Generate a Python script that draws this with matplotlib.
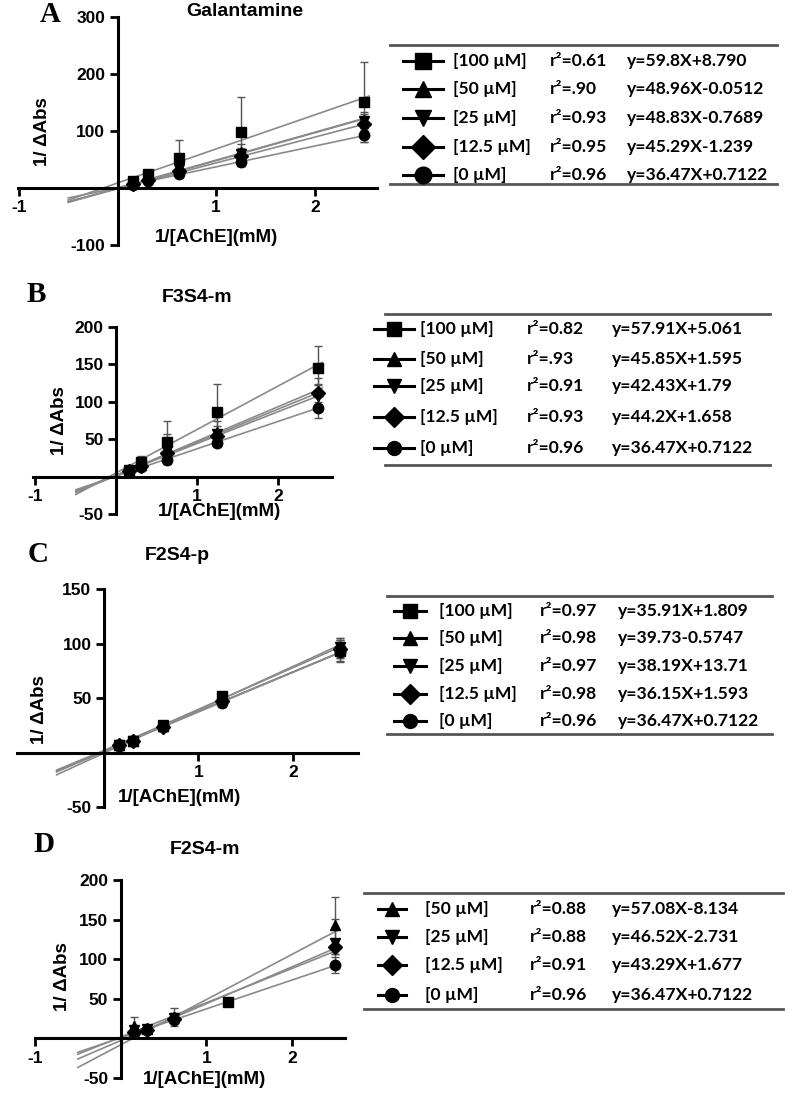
import matplotlib
matplotlib.use("Agg")
import matplotlib.pyplot as plt
import numpy as np

W, H = 789, 1102

# ---------------- data ----------------
x_conc = [0.156, 0.3125, 0.625, 1.25, 2.5]
x_conc_D = [0.156, 0.3125, 0.625, 2.5]

conc_5 = ['[100 µM]', '[50 µM]', '[25 µM]', '[12.5 µM]', '[0 µM]']
conc_4 = ['[50 µM]', '[25 µM]', '[12.5 µM]', '[0 µM]']
markers_5 = ['s', '^', 'v', 'D', 'o']
markers_4 = ['^', 'v', 'D', 'o']

# Panel A - Galantamine
A_r2 = ['r²=0.61', 'r²=.90', 'r²=0.93', 'r²=0.95', 'r²=0.96']
A_eq = ['y=59.8X+8.790', 'y=48.96X-0.0512', 'y=48.83X-0.7689', 'y=45.29X-1.239', 'y=36.47X+0.7122']
A_slope = [59.8, 48.96, 48.83, 45.29, 36.47]
A_icpt = [8.790, -0.0512, -0.7689, -1.239, 0.7122]
A_y = [[12, 25, 52, 99, 151], [9, 18, 36, 63, 120], [8, 15, 33, 60, 118],
       [7, 14, 30, 56, 112], [6, 12, 24, 46, 93]]
A_err = [[3, 5, 33, 60, 70], [2, 4, 8, 14, 14], [2, 3, 6, 10, 12],
         [2, 3, 5, 8, 10], [2, 3, 4, 7, 13]]

# Panel B - F3S4-m
B_r2 = ['r²=0.82', 'r²=.93', 'r²=0.91', 'r²=0.93', 'r²=0.96']
B_eq = ['y=57.91X+5.061', 'y=45.85X+1.595', 'y=42.43X+1.79', 'y=44.2X+1.658', 'y=36.47X+0.7122']
B_slope = [57.91, 45.85, 42.43, 44.2, 36.47]
B_icpt = [5.061, 1.595, 1.79, 1.658, 0.7122]
B_y = [[9, 20, 46, 86, 145], [8, 16, 37, 60, 114], [7, 15, 34, 57, 108],
       [7, 14, 32, 54, 112], [7, 13, 22, 45, 92]]
B_err = [[3, 8, 29, 38, 29], [2, 5, 20, 15, 18], [2, 4, 12, 10, 15],
         [2, 4, 10, 8, 12], [2, 3, 4, 5, 14]]

# Panel C - F2S4-p
C_r2 = ['r²=0.97', 'r²=0.98', 'r²=0.97', 'r²=0.98', 'r²=0.96']
C_eq = ['y=35.91X+1.809', 'y=39.73-0.5747', 'y=38.19X+13.71', 'y=36.15X+1.593', 'y=36.47X+0.7122']
C_slope = [35.91, 39.73, 38.19, 36.15, 36.47]
C_icpt = [1.809, -0.5747, 1.371, 1.593, 0.7122]
C_y = [[7, 11, 24, 52, 93], [7, 11, 24, 50, 96], [7, 11, 25, 48, 97],
       [7, 11, 23, 47, 95], [6, 11, 24, 45, 92]]
C_err = [[1, 1, 4, 3, 10], [1, 1, 3, 3, 9], [1, 1, 3, 3, 8],
         [1, 1, 3, 3, 8], [1, 1, 3, 3, 8]]

# Panel D - F2S4-m
D_r2 = ['r²=0.88', 'r²=0.88', 'r²=0.91', 'r²=0.96']
D_eq = ['y=57.08X-8.134', 'y=46.52X-2.731', 'y=43.29X+1.677', 'y=36.47X+0.7122']
D_slope = [57.08, 46.52, 43.29, 36.47]
D_icpt = [-8.134, -2.731, 1.677, 0.7122]
D_y = [[16, 12, 27, 143], [10, 12, 26, 121], [8, 11, 25, 116], [7, 11, 23, 93]]
D_err = [[11, 2, 11, 36], [4, 2, 6, 30], [3, 2, 5, 10], [2, 2, 4, 10]]
D_extra_x = [1.25]
D_extra_y = [46]

fit_x_range = [-0.5, 2.55]

# ---------------- figure ----------------
fig = plt.figure(figsize=(W / 100, H / 100), dpi=100)
TICKFONT = dict(family='Liberation Sans', weight='bold', size=12.5)


def make_axes(px_box, xlim, ylim, xticks, yticks):
    l, r, t, b = px_box
    ax = fig.add_axes([l / W, 1 - b / H, (r - l) / W, (b - t) / H])
    ax.set_xlim(*xlim)
    ax.set_ylim(*ylim)
    ax.spines['left'].set_position(('data', 0))
    ax.spines['bottom'].set_position(('data', 0))
    for s in ['top', 'right']:
        ax.spines[s].set_visible(False)
    for s in ['left', 'bottom']:
        ax.spines[s].set_linewidth(2.2)
    ax.set_xticks(xticks)
    ax.set_yticks(yticks)
    ax.set_xticklabels([str(v) for v in xticks], fontdict=TICKFONT)
    ax.set_yticklabels([str(v) for v in yticks], fontdict=TICKFONT)
    ax.tick_params(direction='out', length=6, width=2, pad=3)
    ax.patch.set_alpha(0)
    return ax


def draw_series(ax, xs, ys_list, errs_list, slopes, icpts, markers, msize=7.5):
    xf = np.array(fit_x_range)
    for s, c in zip(slopes, icpts):
        ax.plot(xf, s * xf + c, color='#8a8a8a', lw=1.2, zorder=2)
    for ys, es, m in zip(ys_list, errs_list, markers):
        ax.errorbar(xs, ys, yerr=es, fmt=m, color='black', ms=msize,
                    ecolor='#555555', elinewidth=1.0, capsize=3, capthick=1.0, zorder=3)


axA = make_axes((18, 377, 17, 245), (-1.01, 2.63), (-100, 300), [-1, 1, 2], [-100, 100, 200, 300])
draw_series(axA, x_conc, A_y, A_err, A_slope, A_icpt, markers_5)

axB = make_axes((33, 332, 327, 514), (-1.03, 2.67), (-50, 200), [-1, 1, 2], [-50, 50, 100, 150, 200])
draw_series(axB, x_conc, B_y, B_err, B_slope, B_icpt, markers_5)

axC = make_axes((17, 358, 589, 807), (-0.92, 2.69), (-50, 150), [1, 2], [-50, 50, 100, 150])
draw_series(axC, x_conc, C_y, C_err, C_slope, C_icpt, markers_5)

axD = make_axes((35, 345, 880, 1078), (-1.0, 2.62), (-50, 200), [-1, 1, 2], [-50, 50, 100, 150, 200])
draw_series(axD, x_conc_D, D_y, D_err, D_slope, D_icpt, markers_4)
axD.plot(D_extra_x, D_extra_y, 's', color='black', ms=7.5, zorder=3)

# ---------------- overlay (pixel coordinates) ----------------
ov = fig.add_axes([0, 0, 1, 1], zorder=10)
ov.set_xlim(0, W)
ov.set_ylim(H, 0)
ov.axis('off')
ov.patch.set_alpha(0)

LBL = dict(family='Liberation Sans', weight='bold', size=13.5)
TTL = dict(family='Liberation Sans', weight='bold', size=14)
LET = dict(family='Liberation Serif', weight='bold', size=21)

panel_letters = ['A', 'B', 'C', 'D']
panel_titles = ['Galantamine', 'F3S4-m', 'F2S4-p', 'F2S4-m']
letter_pos = [(50, 15), (36, 295), (38, 555), (44, 845)]
title_pos = [(245, 12), (197, 297), (177, 555), (205, 850)]
ylabel_pos = [(43, 132), (60, 421), (40, 710), (63, 977)]
xlabel_pos = [(217, 238), (220, 511), (180, 797), (205, 1080)]

for i in range(4):
    ov.text(*letter_pos[i], panel_letters[i], ha='center', va='center', **LET)
    ov.text(*title_pos[i], panel_titles[i], ha='center', va='center', **TTL)
    ov.text(*ylabel_pos[i], '1/ ΔAbs', ha='center', va='center', rotation=90, **LBL)
    ov.text(*xlabel_pos[i], '1/[AChE](mM)', ha='center', va='center', **LBL)

TAB = dict(family='Lato', weight='bold', size=12.6)


def draw_table(x0, x1, ytop, ybot, rows_y, mk_x, mk_half, col_x, labels, r2s, eqs, markers, msize):
    ov.plot([x0, x1], [ytop, ytop], color='#555555', lw=2)
    ov.plot([x0, x1], [ybot, ybot], color='#555555', lw=2)
    for y, lab, r2, eq, m in zip(rows_y, labels, r2s, eqs, markers):
        ov.plot([mk_x - mk_half, mk_x + mk_half], [y, y], color='black', lw=2.2)
        ov.plot([mk_x], [y], marker=m, color='black', ms=msize)
        ov.text(col_x[0], y, lab, ha='left', va='center', **TAB)
        ov.text(col_x[1], y, r2, ha='left', va='center', **TAB)
        ov.text(col_x[2], y, eq, ha='left', va='center', **TAB)


draw_table(390, 777, 45, 184, [61, 89, 118, 147, 175], 423, 20, (453, 550, 627),
           conc_5, A_r2, A_eq, markers_5, 12)
draw_table(385, 770, 314, 465, [329, 359, 386, 417, 448], 394, 20, (420, 527, 612),
           conc_5, B_r2, B_eq, markers_5, 10)
draw_table(387, 772, 596, 734, [611, 638, 666, 694, 721], 410, 16, (439, 540, 618),
           conc_5, C_r2, C_eq, markers_5, 10)
draw_table(364, 783, 893, 1009, [909, 937, 965, 995], 392, 14, (425, 530, 612),
           conc_4, D_r2, D_eq, markers_4, 10)

fig.savefig('out.png', dpi=100)
